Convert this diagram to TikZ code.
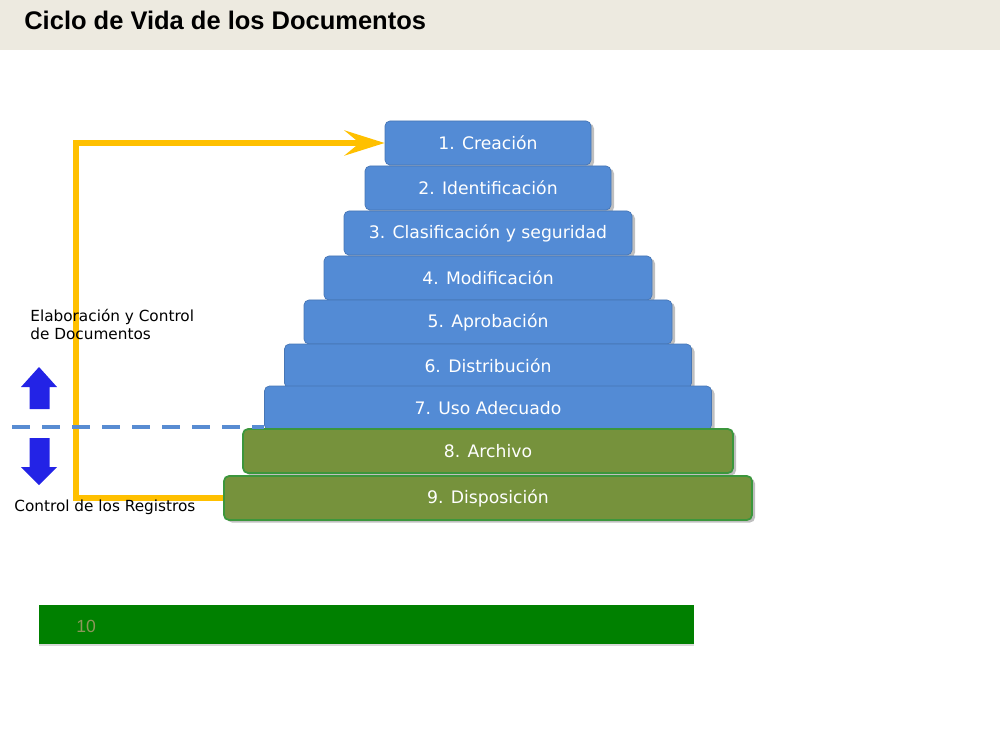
\documentclass[tikz,border=0pt]{standalone}
\usepackage{fontspec}
\setmainfont{DejaVu Sans}
\newfontfamily\arialfont{Liberation Sans}
\usetikzlibrary{arrows.meta,shadows}
\definecolor{headbg}{RGB}{237,234,224}
\definecolor{etapablue}{RGB}{83,139,213}
\definecolor{etapagreen}{RGB}{118,146,60}
\definecolor{etapaline}{RGB}{60,150,60}
\definecolor{flujocol}{RGB}{255,192,0}
\definecolor{flechacol}{RGB}{35,35,230}
\definecolor{barracol}{RGB}{0,128,0}
\definecolor{numgris}{RGB}{140,150,90}
\definecolor{cortecol}{RGB}{88,140,210}
\begin{document}
\begin{tikzpicture}[
  etapa/.style={rounded corners=0.1cm, minimum height=0.88cm, text=white,
    font=\fontsize{9.8}{12}\selectfont,
    drop shadow={shadow xshift=0.06cm, shadow yshift=-0.05cm, opacity=0.5}},
  azul/.style={etapa, fill=etapablue, draw=etapablue!85!black, line width=0.4pt},
  verde/.style={etapa, fill=etapagreen, draw=etapaline, line width=1pt},
  flujo/.style={draw=flujocol, line width=3.4pt, -{Stealth[length=0.8cm,width=0.5cm,inset=0.3cm]}},
  corte/.style={draw=cortecol, line width=2.3pt, dash pattern=on 0.36cm off 0.24cm},
  lado/.style={inner sep=0pt, font=\fontsize{8.7}{10.2}\selectfont},
]
\useasboundingbox (0,0) rectangle (20,15);
\fill[headbg] (0,14) rectangle (20,15);
\node[anchor=base west, inner sep=0pt, font=\arialfont\bfseries\fontsize{14.5}{17}\selectfont] (titulo) at (0.48,14.4) {Ciclo de Vida de los Documentos};

% las etapas
\foreach \i/\w/\y/\t in {1/4.12/12.14/{1. Creación}, 2/4.92/11.24/{2. Identificación},
    3/5.76/10.34/{3. Clasificación y seguridad}, 4/6.56/9.44/{4. Modificación},
    5/7.36/8.56/{5. Aprobación}, 6/8.14/7.68/{6. Distribución}, 7/8.94/6.84/{7. Uso Adecuado}}
   \node[azul, minimum width=\w cm] (b\i) at (9.76,\y) {\t};

\foreach \i/\w/\y/\t in {8/9.8/5.98/{8. Archivo}, 9/10.56/5.04/{9. Disposición}}
   \node[verde, minimum width=\w cm] (b\i) at (9.76,\y) {\t};

\coordinate (giro) at (1.52,0);
\draw[flujo] (b9.west) -- (b9.west -| giro) -- (b1.west -| giro) -- (b1.west);

\coordinate (corte) at (0.24,6.46);
\draw[corte] (corte) -- (corte -| b7.west);

\fill[flechacol] (0.78,7.66) -- (1.14,7.26) -- (0.99,7.26) -- (0.99,6.82) -- (0.59,6.82) -- (0.59,7.26) -- (0.42,7.26) -- cycle;
\fill[flechacol] (0.78,5.30) -- (1.14,5.66) -- (0.99,5.66) -- (0.99,6.24) -- (0.59,6.24) -- (0.59,5.66) -- (0.42,5.66) -- cycle;

\node[lado, anchor=north west, align=left] (elab) at (0.6,8.82) {Elaboración y Control\\de Documentos};
\node[lado, anchor=base west] (registros) at (0.28,4.78) {Control de los Registros};

\node[fill=barracol, minimum width=13.1cm, minimum height=0.78cm, anchor=south west, inner sep=0pt,
  drop shadow={shadow xshift=0cm, shadow yshift=-0.04cm, opacity=0.3}] (barra) at (0.78,2.12) {};
\node[anchor=west, inner sep=0pt, text=numgris, font=\arialfont\fontsize{10}{11}\selectfont] (diez) at (1.52,2.48) {10};
\end{tikzpicture}
\end{document}
